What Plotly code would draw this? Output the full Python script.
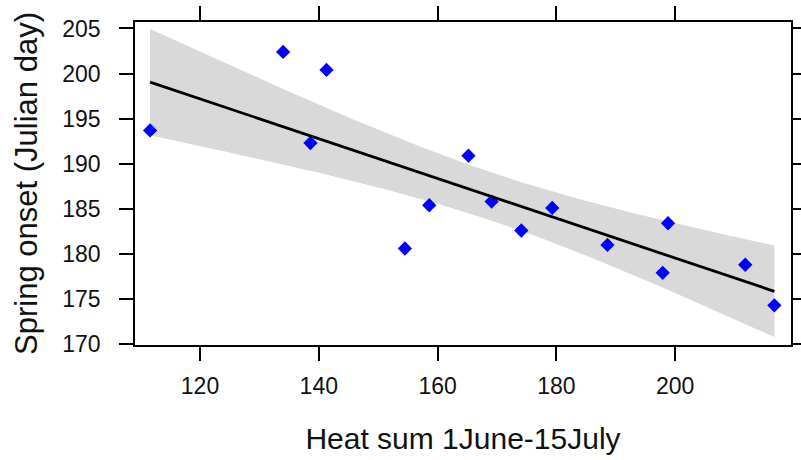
import numpy as np
import plotly.graph_objects as go

# Data
heat_sum = [111.6, 134.0, 141.3, 138.6, 165.2, 158.6, 169.1, 179.3, 174.1,
            154.5, 188.6, 198.8, 197.9, 211.8, 216.7]
spring_onset = [193.7, 202.4, 200.4, 192.3, 190.9, 185.4, 185.8, 185.1, 182.6,
                180.6, 181.0, 183.4, 177.9, 178.8, 174.3]
x_ticks = [120, 140, 160, 180, 200]
y_ticks = [170, 175, 180, 185, 190, 195, 200, 205]
T975_DF13 = 2.160  # Student t quantile for 95% CI, 13 df

# Linear fit with 95% confidence band
x = np.array(heat_sum)
y = np.array(spring_onset)
n = len(x)
slope, intercept = np.polyfit(x, y, 1)
resid = y - (intercept + slope * x)
s = np.sqrt(np.sum(resid ** 2) / (n - 2))
sxx = np.sum((x - x.mean()) ** 2)
xg = np.linspace(x.min(), x.max(), 100)
yg = intercept + slope * xg
hw = T975_DF13 * s * np.sqrt(1.0 / n + (xg - x.mean()) ** 2 / sxx)
upper = yg + hw
lower = yg - hw

FONT = "Liberation Sans, Arial, sans-serif"

fig = go.Figure()
fig.add_trace(go.Scatter(
    x=np.concatenate([xg, xg[::-1]]),
    y=np.concatenate([upper, lower[::-1]]),
    fill="toself", fillcolor="#d9d9d9", line=dict(width=0),
    mode="lines", hoverinfo="skip", showlegend=False))
fig.add_trace(go.Scatter(
    x=heat_sum, y=spring_onset, mode="markers",
    marker=dict(symbol="diamond", size=11, color="#0000ff"),
    showlegend=False))
fig.add_trace(go.Scatter(
    x=xg, y=yg, mode="lines", line=dict(color="black", width=2.8),
    showlegend=False))

axis_common = dict(
    showgrid=False, zeroline=False, showline=True, linecolor="black",
    linewidth=1.5, mirror="allticks", ticks="outside", ticklen=14,
    tickwidth=1.5, tickcolor="black", automargin=False,
    tickfont=dict(family=FONT, size=23, color="#111111"),
)

fig.update_layout(
    width=801, height=460,
    margin=dict(l=135, r=10, t=22, b=115),
    paper_bgcolor="white", plot_bgcolor="white",
    xaxis=dict(range=[109.06, 219.5], tickvals=x_ticks,
               title=dict(text="Heat sum 1June-15July",
                          font=dict(family=FONT, size=30, color="#111111"),
                          standoff=30),
               ticklabelstandoff=6,
               **axis_common),
    yaxis=dict(range=[169.9, 205.72], tickvals=y_ticks,
               title=dict(text="Spring onset (Julian day)",
                          font=dict(family=FONT, size=31, color="#111111"),
                          standoff=15),
               ticklabelstandoff=14,
               **axis_common),
)

fig.write_html("out.html")
